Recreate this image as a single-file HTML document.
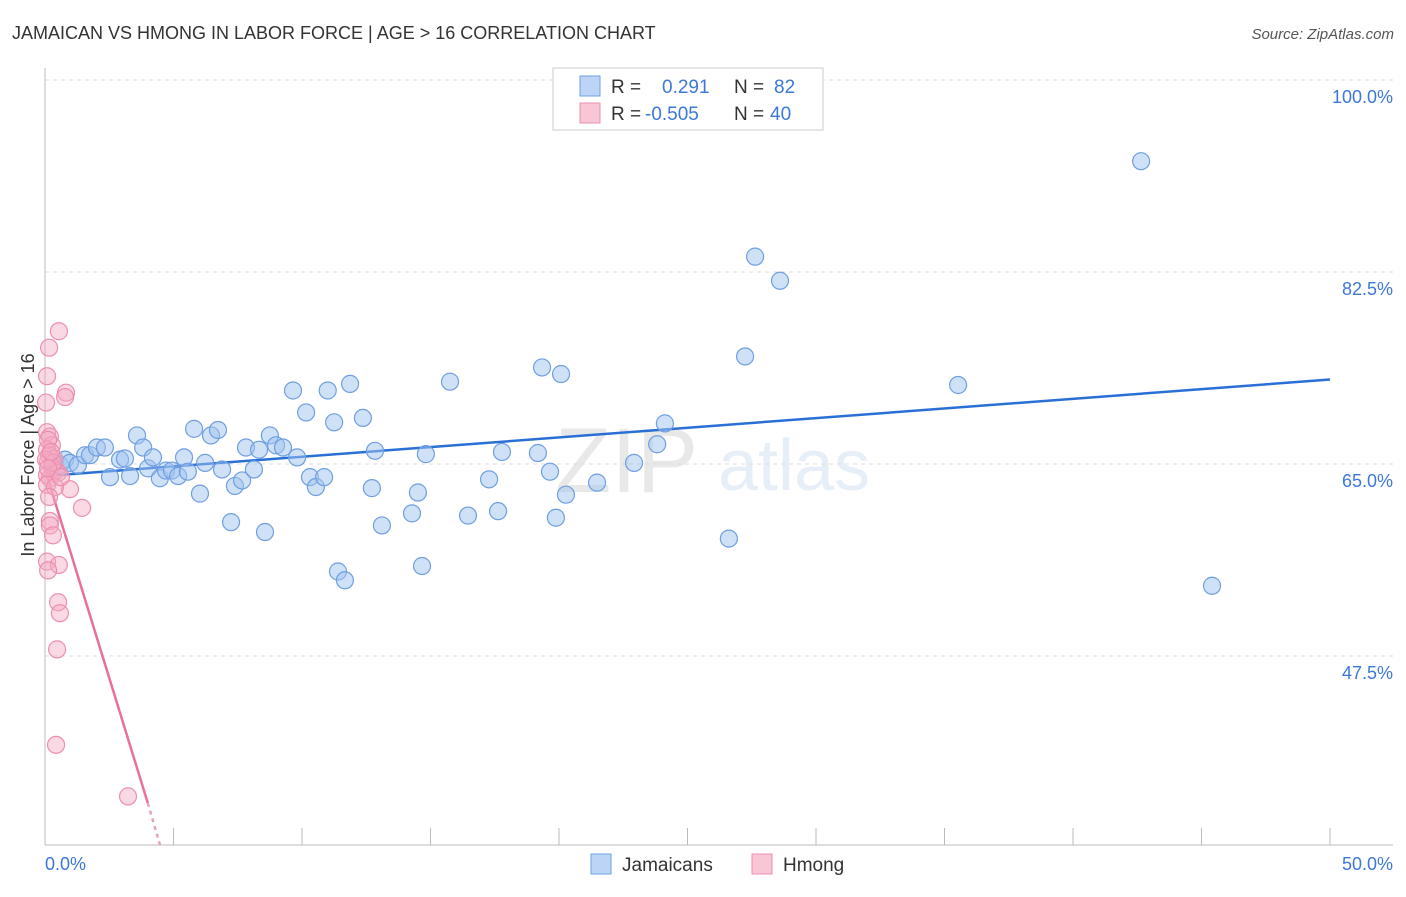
<!DOCTYPE html>
<html><head><meta charset="utf-8"><style>
body{margin:0;background:#fff;font-family:"Liberation Sans",sans-serif}
svg text{font-family:"Liberation Sans",sans-serif}
</style></head><body>
<svg id="chart" width="1406" height="892">
<text x="12" y="39" font-size="18" fill="#333">JAMAICAN VS HMONG IN LABOR FORCE | AGE &gt; 16 CORRELATION CHART</text>
<text x="1394" y="39" font-size="15" fill="#555" font-style="italic" text-anchor="end">Source: ZipAtlas.com</text>
<g opacity="0.13">
<text x="555" y="492" font-size="92" font-family="Liberation Serif" fill="#555">ZIP</text>
<text x="718" y="490" font-size="72" fill="#4a7fd0">atlas</text>
</g>
<g id="grid"></g><g id="axes"></g><g id="lines"></g><g id="pts"></g>
<text transform="translate(34,455) rotate(-90)" font-size="18" fill="#333" text-anchor="middle">In Labor Force | Age &gt; 16</text>
<text x="45" y="870" font-size="18" fill="#3c78d8">0.0%</text>
<text x="1393" y="870" font-size="18" fill="#3c78d8" text-anchor="end">50.0%</text>
<g>
<rect x="553" y="68" width="270" height="62" fill="#fff" stroke="#ccc"/>
<rect x="580" y="76" width="20" height="20" fill="#bcd4f5" stroke="#6f9fe0"/>
<rect x="580" y="103" width="20" height="20" fill="#f9c6d6" stroke="#ec8fae"/>
<text x="611" y="93" font-size="19" fill="#333">R =</text>
<text x="662" y="93" font-size="19" fill="#3c78d8">0.291</text>
<text x="734" y="93" font-size="19" fill="#333">N =</text>
<text x="774" y="93" font-size="19" fill="#3c78d8">82</text>
<text x="611" y="120" font-size="19" fill="#333">R =</text>
<text x="645" y="120" font-size="19" fill="#3c78d8">-0.505</text>
<text x="734" y="120" font-size="19" fill="#333">N =</text>
<text x="770" y="120" font-size="19" fill="#3c78d8">40</text>
</g>
<g>
<rect x="591" y="854" width="20" height="20" fill="#bcd4f5" stroke="#6f9fe0"/>
<text x="622" y="871" font-size="19" fill="#333">Jamaicans</text>
<rect x="752" y="854" width="20" height="20" fill="#f9c6d6" stroke="#ec8fae"/>
<text x="783" y="871" font-size="19" fill="#333">Hmong</text>
</g>
</svg>
<script>
const yTicks=[47.5,65.0,82.5,100.0];
const yTickLabels=["47.5%","65.0%","82.5%","100.0%"];
const xTickVals=[0,5,10,15,20,25,30,35,40,45,50];
const blueX=[0.39,0.58,0.78,0.97,1.28,1.56,1.75,2.02,2.33,2.53,2.92,3.11,3.31,3.58,3.82,4.01,4.20,4.47,4.71,4.94,5.18,5.41,5.56,5.80,6.03,6.23,6.46,6.73,6.89,7.24,7.39,7.67,7.82,8.13,8.33,8.56,8.75,8.99,9.26,9.65,9.81,10.16,10.31,10.54,10.86,11.0,11.25,11.4,11.67,11.87,12.37,12.72,12.84,13.11,14.28,14.51,14.67,14.82,15.76,16.46,17.28,17.63,17.78,19.18,19.34,19.65,19.88,20.08,20.27,21.48,22.92,23.82,24.12,26.61,27.24,27.63,28.6,35.53,42.65,45.41];
const blueY=[65.2,64.9,65.4,65.1,64.9,65.8,65.8,66.5,66.5,63.8,65.4,65.5,63.9,67.6,66.5,64.6,65.6,63.7,64.4,64.4,63.9,65.6,64.3,68.2,62.3,65.1,67.6,68.1,64.5,59.7,63.0,63.5,66.5,64.5,66.3,58.8,67.6,66.7,66.5,71.7,65.6,69.7,63.8,62.9,63.8,71.7,68.8,55.2,54.4,72.3,69.2,62.8,66.2,59.4,60.5,62.4,55.7,65.9,72.5,60.3,63.6,60.7,66.1,66.0,73.8,64.3,60.1,73.2,62.2,63.3,65.1,66.8,68.7,58.2,74.8,83.9,81.7,72.2,92.6,53.9];
const pinkX=[0.54,0.16,0.08,0.04,0.82,0.78,0.08,0.19,0.27,0.08,0.16,0.35,0.12,0.27,0.43,0.08,0.19,0.51,0.08,0.97,1.44,0.19,0.19,0.31,0.08,0.54,0.12,0.51,0.58,0.47,0.43,3.23,0.04,0.31,0.12,0.23,0.39,0.16,0.12,0.62];
const pinkY=[77.1,75.6,73.0,70.6,71.5,71.1,67.9,67.5,66.7,66.3,65.8,65.5,65.2,64.8,64.4,64.0,63.7,64.2,63.1,62.7,61.0,59.8,59.4,58.5,56.1,55.8,55.3,52.4,51.4,48.1,39.4,34.7,65.4,65.1,67.2,66.1,62.9,62.0,64.6,63.8];
const blueTrend=[[0,63.9],[50,72.7]];
const pinkTrend=[[0,64.5],[4.0,34.1]];
const pinkDash=[[4.0,34.1],[4.47,30.3]];
const X=v=>45+v*25.7, Y=v=>80+(100-v)*10.971;
const NS="http://www.w3.org/2000/svg";
function mk(parent,tag,attrs){const e=document.createElementNS(NS,tag);for(const k in attrs)e.setAttribute(k,attrs[k]);document.getElementById(parent).appendChild(e);return e;}
yTicks.forEach((t,i)=>{
 const l=mk('grid','line',{x1:45,x2:1393,y1:Y(t),y2:Y(t),stroke:'#ddd','stroke-dasharray':'4,4'});
 
 
 const tx=mk('grid','text',{x:1393,y:Y(t)+23,'font-size':18,fill:'#3c78d8','text-anchor':'end'});
 tx.textContent=yTickLabels[i];
 
 
});
const ax=mk('axes','line',{x1:45,x2:45,y1:68,y2:845,stroke:'#bbb'});


const bx=mk('axes','line',{x1:45,x2:1393,y1:845,y2:845,stroke:'#bbb'});


xTickVals.forEach(v=>{const t=mk('axes','line',{x1:X(v),x2:X(v),y1:828,y2:845,stroke:'#bbb'});
 
 });
function ln(p,c,dash,name){const l=mk('lines','line',{x1:X(p[0][0]),y1:Y(p[0][1]),x2:X(p[1][0]),y2:Y(p[1][1]),stroke:c,'stroke-width':2.5});
 if(dash)l.setAttribute('stroke-dasharray','4,4');
 
 }
ln(blueTrend,'#2a6fd6',false,'jamaicans-trendline');
ln(pinkTrend,'#e8709a',false,'hmong-trendline');
ln(pinkDash,'#e8a0b8',true,'hmong-trendline-extension');
blueX.forEach((x,i)=>{const c=mk('pts','circle',{cx:X(x),cy:Y(blueY[i]),r:8.5,fill:'rgba(160,196,240,0.5)',stroke:'#6f9fe0','stroke-width':1.2});
 
 });
pinkX.forEach((x,i)=>{const c=mk('pts','circle',{cx:X(x),cy:Y(pinkY[i]),r:8.5,fill:'rgba(245,170,195,0.45)',stroke:'#ec8fae','stroke-width':1.2});
 
 });
</script>
</body></html>
